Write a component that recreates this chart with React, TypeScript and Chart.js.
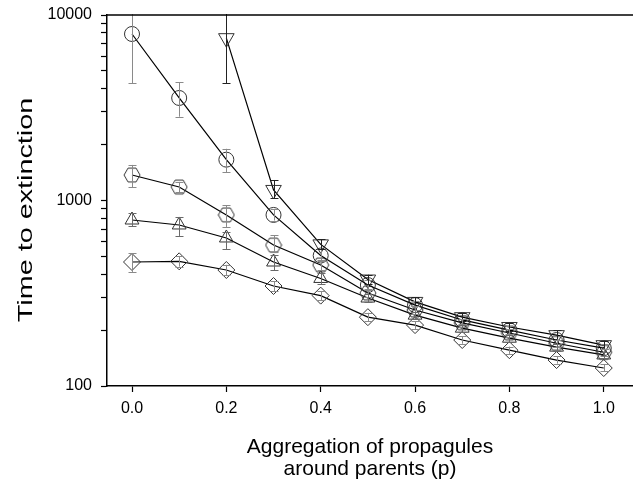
import React, { useEffect, useRef } from "react";
import { Chart, registerables } from "chart.js";

Chart.register(...registerables);

const xValues = [0, 0.1, 0.2, 0.3, 0.4, 0.5, 0.6, 0.7, 0.8, 0.9, 1.0];
const xTickValues = [0, 0.2, 0.4, 0.6, 0.8, 1.0];
const yTickValues = [100, 200, 300, 400, 500, 600, 700, 800, 900, 1000, 2000, 3000, 4000, 5000, 6000, 7000, 8000, 9000, 10000];
const yTitle = "Time to extinction";
const xTitle = ["Aggregation of propagules", "around parents (p)"];

const circleVals = [7900, 3570, 1660, 836, 505, 350, 273, 227, 200, 177, 160];
const circleLow = [4300, 2830, 1420, 780, 470, 330, 258, 215, 190, 168, 152];
const circleHigh = [13000, 4350, 1900, 900, 545, 372, 288, 240, 211, 186, 168];

const triDownVals = [null, null, 7500, 1140, 580, 375, 284, 235, 208, 188, 166];
const triDownLow = [null, null, 4300, 1030, 545, 355, 270, 224, 198, 178, 158];
const triDownHigh = [null, null, 14000, 1290, 620, 398, 300, 247, 219, 200, 175];

const hexVals = [1372, 1182, 836, 575, 449, 317, 257, 219, 193, 170, 152];
const hexLow = [1182, 1110, 720, 528, 420, 300, 245, 209, 184, 162, 145];
const hexHigh = [1555, 1260, 945, 650, 480, 335, 270, 229, 202, 178, 159];

const triVals = [785, 738, 628, 466, 380, 298, 241, 205, 181, 162, 147];
const triLow = [729, 644, 548, 420, 355, 282, 230, 196, 173, 155, 141];
const triHigh = [855, 815, 676, 510, 405, 315, 252, 214, 189, 169, 153];

const diaVals = [466, 470, 422, 346, 307, 235, 213, 177, 156, 138, 125];
const diaLow = [412, 440, 395, 325, 290, 223, 203, 169, 149, 132, 120];
const diaHigh = [521, 500, 450, 368, 325, 248, 224, 185, 163, 145, 131];

const FONT = "'Liberation Sans', Arial, sans-serif";

function makeHexagon(): HTMLCanvasElement {
  const c = document.createElement("canvas");
  c.width = 18;
  c.height = 18;
  const ctx = c.getContext("2d")!;
  ctx.strokeStyle = "#333";
  ctx.lineWidth = 1;
  ctx.beginPath();
  const r = 8;
  for (let i = 0; i < 6; i++) {
    const a = (Math.PI / 3) * i;
    const px = 9 + r * Math.cos(a);
    const py = 9 + r * Math.sin(a);
    if (i === 0) ctx.moveTo(px, py);
    else ctx.lineTo(px, py);
  }
  ctx.closePath();
  ctx.stroke();
  return c;
}

function toPoints(vals: (number | null)[]) {
  const pts: { x: number; y: number }[] = [];
  vals.forEach((v, i) => {
    if (v !== null) pts.push({ x: xValues[i], y: v });
  });
  return pts;
}

const errorBarPlugin = {
  id: "errorBars",
  afterDatasetsDraw(chart: any) {
    const { ctx, chartArea, scales } = chart;
    const xs = scales.x;
    const ys = scales.y;
    ctx.save();
    ctx.beginPath();
    ctx.rect(chartArea.left, chartArea.top - 1, chartArea.right - chartArea.left, chartArea.bottom - chartArea.top + 1);
    ctx.clip();
    chart.data.datasets.forEach((ds: any) => {
      const lows: (number | null)[] = ds.errLow;
      const highs: (number | null)[] = ds.errHigh;
      ctx.strokeStyle = ds.errColor;
      ctx.lineWidth = 1;
      xValues.forEach((xv, i) => {
        const lo = lows[i];
        const hi = highs[i];
        if (lo === null || hi === null) return;
        const px = Math.round(xs.getPixelForValue(xv)) + 0.5;
        const y1 = ys.getPixelForValue(lo);
        const y2 = ys.getPixelForValue(hi);
        ctx.beginPath();
        ctx.moveTo(px, y1);
        ctx.lineTo(px, y2);
        ctx.moveTo(px - 4, Math.round(y1) + 0.5);
        ctx.lineTo(px + 4, Math.round(y1) + 0.5);
        ctx.moveTo(px - 4, Math.round(y2) + 0.5);
        ctx.lineTo(px + 4, Math.round(y2) + 0.5);
        ctx.stroke();
      });
    });
    ctx.restore();
  },
};

const framePlugin = {
  id: "frameTop",
  afterDraw(chart: any) {
    const { ctx, chartArea } = chart;
    ctx.save();
    ctx.strokeStyle = "#000";
    ctx.lineWidth = 1.5;
    ctx.beginPath();
    ctx.moveTo(chartArea.left, chartArea.top);
    ctx.lineTo(chartArea.right, chartArea.top);
    ctx.stroke();
    // y axis title, stretched along its length as in the reference
    ctx.translate(26, 210);
    ctx.rotate(-Math.PI / 2);
    ctx.scale(1.37, 1);
    ctx.fillStyle = "#000";
    ctx.font = `21px ${FONT}`;
    ctx.textAlign = "center";
    ctx.textBaseline = "middle";
    ctx.fillText(yTitle, 0, 0);
    ctx.restore();
  },
};

export default function App() {
  const canvasRef = useRef<HTMLCanvasElement | null>(null);

  useEffect(() => {
    if (!canvasRef.current) return;
    const hex = makeHexagon();
    const common = {
      borderColor: "#000",
      borderWidth: 1.2,
      pointBorderColor: "#333",
      pointBackgroundColor: "rgba(0,0,0,0)",
      pointBorderWidth: 1,
      pointRadius: 8,
      showLine: true,
      fill: false,
      tension: 0,
    };
    const zeroPad = (scale: any) => {
      scale.paddingLeft = 0;
      scale.paddingRight = 0;
      scale.paddingTop = 0;
      scale.paddingBottom = 0;
    };
    const chart = new Chart(canvasRef.current, {
      type: "scatter",
      data: {
        datasets: [
          { ...common, label: "circle", data: toPoints(circleVals), pointStyle: "circle", pointRadius: 7.5, errLow: circleLow, errHigh: circleHigh, errColor: "#8a8a8a" } as any,
          { ...common, label: "triDown", data: toPoints(triDownVals), pointStyle: "triangle", rotation: 180, pointRotation: 180, pointRadius: 9, errLow: triDownLow, errHigh: triDownHigh, errColor: "#222" } as any,
          { ...common, label: "hexagon", data: toPoints(hexVals), pointStyle: hex, errLow: hexLow, errHigh: hexHigh, errColor: "#8a8a8a" } as any,
          { ...common, label: "triangle", data: toPoints(triVals), pointStyle: "triangle", pointRadius: 8, errLow: triLow, errHigh: triHigh, errColor: "#6a6a6a" } as any,
          { ...common, label: "diamond", data: toPoints(diaVals), pointStyle: "rectRot", pointRadius: 8.5, errLow: diaLow, errHigh: diaHigh, errColor: "#8a8a8a" } as any,
        ],
      },
      options: {
        animation: false,
        responsive: false,
        devicePixelRatio: 1,
        layout: { autoPadding: false, padding: { top: 15, right: 0, left: 0, bottom: 0 } },
        plugins: { legend: { display: false }, tooltip: { enabled: false } },
        scales: {
          x: {
            type: "linear",
            min: -0.053,
            max: 1.062,
            afterBuildTicks: (scale: any) => {
              scale.ticks = xTickValues.map((v) => ({ value: v }));
            },
            afterFit: (scale: any) => {
              scale.height = 98;
              zeroPad(scale);
            },
            ticks: {
              autoSkip: false,
              maxRotation: 0,
              padding: 7,
              color: "#000",
              font: { family: FONT, size: 16 },
              callback: (v: any) => Number(v).toFixed(1),
            },
            grid: { drawOnChartArea: false, tickLength: 6, tickColor: "#000", tickWidth: 1.2 },
            border: { display: true, color: "#000", width: 1.5 },
            title: {
              display: true,
              text: xTitle,
              color: "#000",
              font: { family: FONT, size: 21, lineHeight: 1.05 },
              padding: { top: 0, bottom: 4 },
            },
          },
          y: {
            type: "logarithmic",
            min: 100,
            max: 10000,
            afterBuildTicks: (scale: any) => {
              scale.ticks = yTickValues.map((v) => ({ value: v, major: [100, 1000, 10000].includes(v) }));
            },
            afterFit: (scale: any) => {
              scale.width = 107;
              zeroPad(scale);
            },
            ticks: {
              autoSkip: false,
              padding: 9,
              color: "#000",
              font: { family: FONT, size: 16 },
              callback: (v: any) => ([100, 1000, 10000].includes(Number(v)) ? String(v) : ""),
            },
            grid: { drawOnChartArea: false, tickLength: 6, tickColor: "#000", tickWidth: 1.2 },
            border: { display: true, color: "#000", width: 1.5 },
            title: { display: false },
          },
        },
      } as any,
      plugins: [errorBarPlugin, framePlugin],
    });
    return () => chart.destroy();
  }, []);

  return (
    <div style={{ position: "absolute", left: 0, top: 0, width: 633, height: 484, background: "#fff" }}>
      <canvas ref={canvasRef} width={633} height={484} style={{ display: "block" }} />
    </div>
  );
}
